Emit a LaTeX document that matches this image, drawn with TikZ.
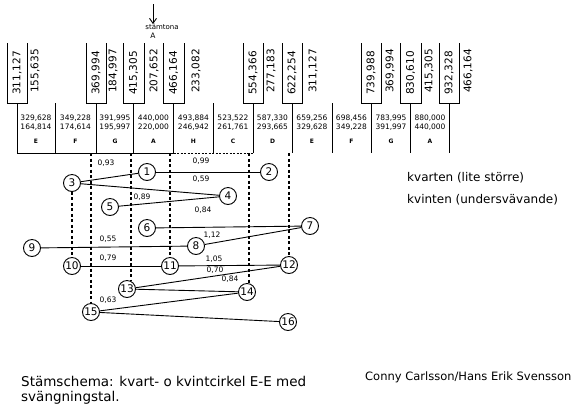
\documentclass[tikz,border=0pt]{standalone}
\usepackage{fontspec}
\setmainfont{DejaVu Sans}
\usetikzlibrary{arrows.meta}
\begin{document}
\begin{tikzpicture}[x=1pt,y=-1pt,
  linia/.style={line width=0.9pt},
  kropki/.style={line width=1.1pt, dash pattern=on 3pt off 2.5pt},
  ton/.style={circle, draw, line width=0.9pt, minimum size=17pt, inner sep=0pt,
    font=\fontsize{10.5}{10.5}\selectfont},
  pion/.style={rotate=90, inner sep=0pt, font=\fontsize{10.5}{10.5}\selectfont},
  czest/.style={align=center, inner sep=0pt, font=\fontsize{7.5}{8.8}\selectfont},
  litera/.style={inner sep=0pt, font=\fontsize{6}{6}\selectfont\bfseries},
  roznica/.style={inner sep=0pt, font=\fontsize{7.5}{7.5}\selectfont},
  opis/.style={inner sep=0pt, anchor=west, font=\fontsize{12}{12}\selectfont}]

\useasboundingbox (0,0) rectangle (577,408);

% Parametry
\def\ytop{43}
\def\ybox{103}
\def\ybot{153}
\def\yfr{122.5}
\def\ylit{141}

% ---------- Ton stroikowy ----------
\coordinate (grot) at (153,4);
\node[inner sep=0pt, font=\fontsize{7}{7}\selectfont] (stamtona) at (162,27) {stämtona};
\node[inner sep=0pt, font=\fontsize{7.5}{7.5}\selectfont] (tonA) at (153,35.5) {A};
\draw[linia, -{Straight Barb[length=5pt,width=7pt]}] (grot) -- (grot |- stamtona.north);

% ---------- Czarne klawisze ----------
\draw[linia] (7,\ytop) -- (7,\ybox) -- (27,\ybox) -- (27,\ytop);
\draw[linia] (86,\ytop) -- (86,\ybox) -- (106,\ybox) -- (106,\ytop);
\draw[linia] (123,\ytop) -- (123,\ybox) -- (144,\ybox) -- (144,\ytop);
\draw[linia] (163,\ytop) -- (163,\ybox) -- (184,\ybox) -- (184,\ytop);
\draw[linia] (243,\ytop) -- (243,\ybox) -- (263,\ybox) -- (263,\ytop);
\draw[linia] (282,\ytop) -- (282,\ybox) -- (302,\ybox) -- (302,\ytop);
\draw[linia] (361,\ytop) -- (361,\ybox) -- (381,\ybox) -- (381,\ytop);
\draw[linia] (400,\ytop) -- (400,\ybox) -- (421,\ybox) -- (421,\ytop);
\draw[linia] (439,\ytop) -- (439,\ybox) -- (459,\ybox) -- (459,\ytop);

\node[pion] (c1) at (17,73) {311,127};
\node[pion] (c2) at (96,73) {369,994};
\node[pion] (c3) at (133.5,73) {415,305};
\node[pion] (c4) at (173.5,73) {466,164};
\node[pion] (c5) at (253,73) {554,366};
\node[pion] (c6) at (292,73) {622,254};
\node[pion] (c7) at (371,73) {739,988};
\node[pion] (c8) at (410.5,73) {830,610};
\node[pion] (c9) at (449,73) {932,328};

% oktawa nizej
\node[pion] (o1) at (35,71) {155,635};
\node[pion] (o2) at (113,71) {184,997};
\node[pion] (o3) at (154,71) {207,652};
\node[pion] (o4) at (196,71) {233,082};
\node[pion] (o5) at (271,71) {277,183};
\node[pion] (o6) at (313,71) {311,127};
\node[pion] (o7) at (390,71) {369,994};
\node[pion] (o8) at (429,71) {415,305};
\node[pion] (o9) at (468,71) {466,164};

% ---------- Biale klawisze ----------
\draw[linia] (17,\ybox) -- (17,\ybot);
\draw[linia] (55,\ybox) -- (55,\ybot);
\draw[linia] (96,\ybox) -- (96,\ybot);
\draw[linia] (133.5,\ybox) -- (133.5,\ybot);
\draw[linia] (173.5,\ybox) -- (173.5,\ybot);
\draw[linia] (213,\ybox) -- (213,\ybot);
\draw[linia] (253,\ybox) -- (253,\ybot);
\draw[linia] (292,\ybox) -- (292,\ybot);
\draw[linia] (332,\ybox) -- (332,\ybot);
\draw[linia] (371,\ybox) -- (371,\ybot);
\draw[linia] (410.5,\ybox) -- (410.5,\ybot);
\draw[linia] (449,\ybox) -- (449,\ybot);
\draw[linia] (17,\ybot) -- (173.5,\ybot);
\draw[linia, dash pattern=on 2pt off 1.5pt] (173.5,\ybot) -- (253,\ybot);

\node[czest] (fE1) at (36,\yfr) {329,628\\164,814};
\node[czest] (fF1) at (75.5,\yfr) {349,228\\174,614};
\node[czest] (fG1) at (115,\yfr) {391,995\\195,997};
\node[czest] (fA1) at (153.5,\yfr) {440,000\\220,000};
\node[czest] (fH1) at (193.5,\yfr) {493,884\\246,942};
\node[czest] (fC1) at (233,\yfr) {523,522\\261,761};
\node[czest] (fD1) at (272.5,\yfr) {587,330\\293,665};
\node[czest] (fE2) at (312,\yfr) {659,256\\329,628};
\node[czest] (fF2) at (351.5,\yfr) {698,456\\349,228};
\node[czest] (fG2) at (391,\yfr) {783,995\\391,997};
\node[czest] (fA2) at (430,\yfr) {880,000\\440,000};

\node[litera] (lE1) at (36,\ylit) {E};
\node[litera] (lF1) at (75.5,\ylit) {F};
\node[litera] (lG1) at (115,\ylit) {G};
\node[litera] (lA1) at (153.5,\ylit) {A};
\node[litera] (lH1) at (193.5,\ylit) {H};
\node[litera] (lC1) at (233,\ylit) {C};
\node[litera] (lD1) at (272.5,\ylit) {D};
\node[litera] (lE2) at (312,\ylit) {E};
\node[litera] (lF2) at (351.5,\ylit) {F};
\node[litera] (lG2) at (391,\ylit) {G};
\node[litera] (lA2) at (430,\ylit) {A};

% ---------- Kolo kwart i kwint ----------
\node[ton] (n1) at (147,172) {1};
\node[ton] (n2) at (269,172) {2};
\node[ton] (n3) at (72,183) {3};
\node[ton] (n4) at (228,196) {4};
\node[ton] (n5) at (110,207) {5};
\node[ton] (n6) at (147,228) {6};
\node[ton] (n7) at (310,226) {7};
\node[ton] (n8) at (196,246) {8};
\node[ton] (n9) at (32,248) {9};
\node[ton] (n10) at (72,266) {10};
\node[ton] (n11) at (170,266) {11};
\node[ton] (n12) at (289,265) {12};
\node[ton] (n13) at (127,289) {13};
\node[ton] (n14) at (247,292) {14};
\node[ton] (n15) at (91,312) {15};
\node[ton] (n16) at (288,322) {16};

\draw[linia] (n3) -- (n1);
\draw[linia] (n1) -- (n2);
\draw[linia] (n3) -- (n4);
\draw[linia] (n5) -- (n4);
\draw[linia] (n6) -- (n7);
\draw[linia] (n8) -- (n7);
\draw[linia] (n9) -- (n8);
\draw[linia] (n10) -- (n11);
\draw[linia] (n11) -- (n12);
\draw[linia] (n13) -- (n12);
\draw[linia] (n13) -- (n14);
\draw[linia] (n15) -- (n14);
\draw[linia] (n15) -- (n16);

% dudnienia
\node[roznica] (r1) at (106,163) {0,93};
\node[roznica] (r2) at (201,161) {0,99};
\node[roznica] (r3) at (201,179) {0,59};
\node[roznica] (r4) at (142,197) {0,89};
\node[roznica] (r5) at (203,210) {0,84};
\node[roznica] (r6) at (212,235) {1,12};
\node[roznica] (r7) at (108,239) {0,55};
\node[roznica] (r8) at (108,258) {0,79};
\node[roznica] (r9) at (214,259) {1,05};
\node[roznica] (r10) at (215,270) {0,70};
\node[roznica] (r11) at (230,279) {0,84};
\node[roznica] (r12) at (108,300) {0,63};

% ---------- Linie kropkowane ----------
\coordinate (d15) at (91,\ybot);
\coordinate (d13) at (131,\ybot);
\coordinate (d11) at (170,\ybot);
\coordinate (d14) at (249,\ybot);
\coordinate (d12) at (289,\ybot);
\draw[kropki] (n3) -- (n10);
\draw[kropki] (d15) -- (n15);
\draw[kropki] (d13) -- (d13 |- n13.north);
\draw[kropki] (d11) -- (n11);
\draw[kropki] (d14) -- (d14 |- n14.north);
\draw[kropki] (d12) -- (n12);

% ---------- Opisy ----------
\node[opis] (kvarten) at (407,178) {kvarten (lite större)};
\node[opis] (kvinten) at (407,200) {kvinten (undersvävande)};
\node[opis, font=\fontsize{13.5}{13.5}\selectfont] (stam1) at (21,381) {Stämschema: kvart- o kvintcirkel E-E med};
\node[opis, font=\fontsize{13.5}{13.5}\selectfont] (stam2) at (21,398) {svängningstal.};
\node[opis, font=\fontsize{11.5}{11.5}\selectfont] (autorzy) at (365,377) {Conny Carlsson/Hans Erik Svensson};

\end{tikzpicture}
\end{document}
